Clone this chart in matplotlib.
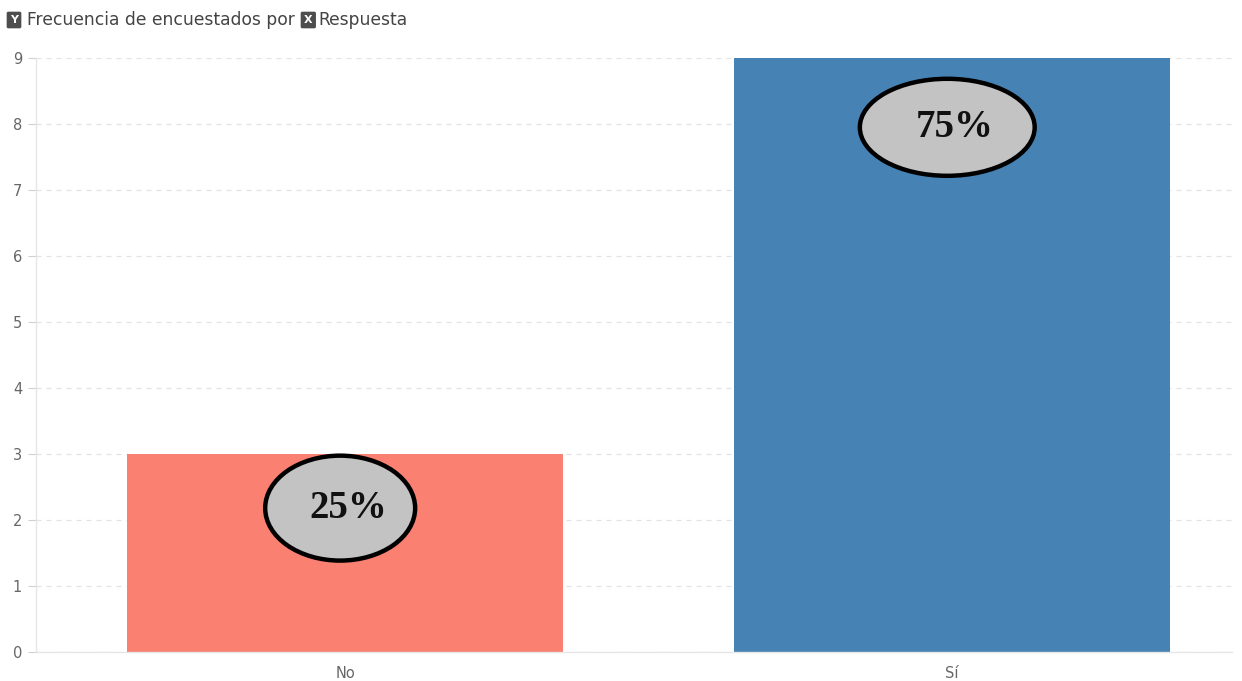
import matplotlib.pyplot as plt
from matplotlib.patches import Ellipse

categories = ["No", "Sí"]
counts = [3, 9]
percent_labels = ["25%", "75%"]
bar_colors = ["#fa8072", "#4682b4"]
y_ticks = list(range(0, 10))

W, H = 1242, 681
fig = plt.figure(figsize=(W / 100, H / 100), dpi=100)
ax = fig.add_axes([36 / W, 29 / H, (1232 - 36) / W, (652 - 58) / H])

x = list(range(len(categories)))
ax.bar(x, counts, width=0.717, color=bar_colors, zorder=2)
ax.set_xlim(-0.509, 1.461)
ax.set_ylim(0, 9)
ax.set_yticks(y_ticks)
ax.set_xticks(x)
ax.set_xticklabels(categories)
ax.grid(axis="y", color="#e3e3e3", linestyle=(0, (4, 4)), linewidth=0.9, zorder=0)
ax.tick_params(axis="both", colors="#d0d0d0", labelcolor="#666666", labelsize=10.5)
ax.tick_params(axis="y", length=6, width=0.8, pad=4)
ax.tick_params(axis="x", length=0, pad=10)
for side in ("top", "right"):
    ax.spines[side].set_visible(False)
for side in ("left", "bottom"):
    ax.spines[side].set_color("#e6e6e6")
    ax.spines[side].set_linewidth(1.0)

# Percentage badges drawn inside each bar
badge_centers = [2.18, 7.95]
badge_sizes = [(0.247, 1.59), (0.288, 1.47)]
for xi, cy, (bw, bh), lab in zip(x, badge_centers, badge_sizes, percent_labels):
    ax.add_patch(Ellipse((xi - 0.008, cy), bw, bh, facecolor="#c3c3c3",
                         edgecolor="black", linewidth=3.2, zorder=3))
    ax.text(xi + 0.005, cy, lab, ha="center", va="center", fontsize=28,
            fontweight="bold", family=["Liberation Serif", "DejaVu Serif"],
            color="#111111", zorder=4)

# Header with field chips
icon = dict(boxstyle="round,pad=0.3,rounding_size=0.15", facecolor="#4d4d4d", edgecolor="none")
fig.text(10 / W, 1 - 20 / H, "Y", fontsize=8, fontweight="bold", color="white",
         ha="left", va="center", bbox=icon)
fig.text(27 / W, 1 - 20 / H, "Frecuencia de encuestados por", fontsize=12.3,
         color="#444444", ha="left", va="center")
fig.text(304 / W, 1 - 20 / H, "X", fontsize=8, fontweight="bold", color="white",
         ha="left", va="center", bbox=icon)
fig.text(318 / W, 1 - 20 / H, "Respuesta", fontsize=12.3,
         color="#444444", ha="left", va="center")

fig.savefig("out.png", dpi=100)
